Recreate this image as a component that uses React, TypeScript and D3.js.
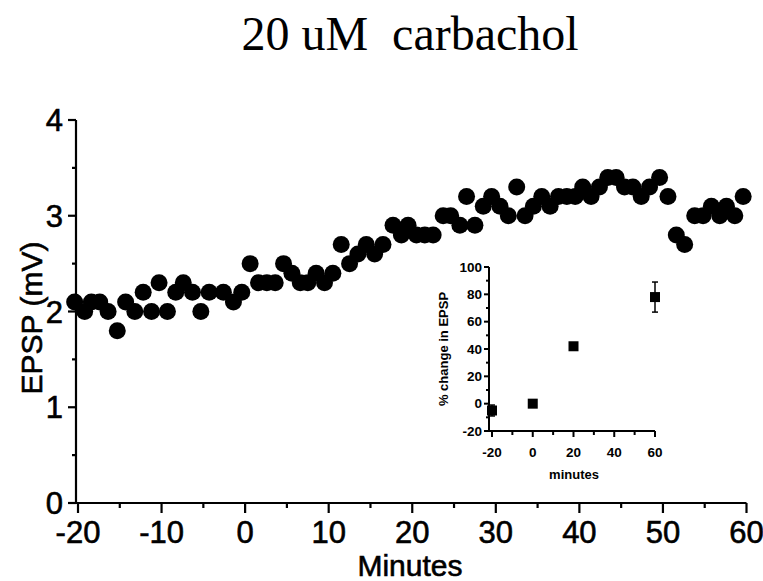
import React from "react";
import * as d3 from "d3";

const title = "20 uM  carbachol";
const xLabel = "Minutes";
const yLabel = "EPSP (mV)";
const insetXLabel = "minutes";
const insetYLabel = "% change in EPSP";

const times = [-20.4,-19.2,-18.4,-17.4,-16.4,-15.3,-14.3,-13.2,-12.2,-11.2,-10.3,-9.3,-8.3,-7.4,-6.3,-5.3,-4.3,-2.6,-1.4,-0.4,0.6,1.6,2.6,3.6,4.6,5.6,6.6,7.5,8.5,9.5,10.5,11.5,12.5,13.5,14.5,15.5,16.5,17.7,18.7,19.5,20.5,21.5,22.5,23.7,24.6,25.7,26.5,27.5,28.5,29.5,30.5,31.5,32.5,33.5,34.5,35.5,36.5,37.5,38.5,39.5,40.4,41.4,42.4,43.4,44.4,45.4,46.4,47.4,48.4,49.6,50.6,51.6,52.6,53.8,54.8,55.8,56.8,57.6,58.6,59.6];
const epsp = [2.1,2.0,2.1,2.1,2.0,1.8,2.1,2.0,2.2,2.0,2.3,2.0,2.2,2.3,2.2,2.0,2.2,2.2,2.1,2.2,2.5,2.3,2.3,2.3,2.5,2.4,2.3,2.3,2.4,2.3,2.4,2.7,2.5,2.6,2.7,2.6,2.7,2.9,2.8,2.9,2.8,2.8,2.8,3.0,3.0,2.9,3.2,2.9,3.1,3.2,3.1,3.0,3.3,3.0,3.1,3.2,3.1,3.2,3.2,3.2,3.3,3.2,3.3,3.4,3.4,3.3,3.3,3.2,3.3,3.4,3.2,2.8,2.7,3.0,3.0,3.1,3.0,3.1,3.0,3.2];

const xTicks = [-20, -10, 0, 10, 20, 30, 40, 50, 60];
const yTicks = [0, 1, 2, 3, 4];

const insetMinutes = [-20, 0, 20, 60];
const insetPct = [-5, 0, 42, 78];
const insetErr = [4, 2, 2, 11];
const insetXTicks = [-20, 0, 20, 40, 60];
const insetYTicks = [-20, 0, 20, 40, 60, 80, 100];

const sans = "'Liberation Sans', Arial, Helvetica, sans-serif";

export default function App() {
  const x = d3.scaleLinear().domain([-20, 60]).range([78, 746.5]);
  const y = d3.scaleLinear().domain([0, 4]).range([503, 120]);
  const ix = d3.scaleLinear().domain([-20, 60]).range([492, 655]);
  const iy = d3.scaleLinear().domain([-20, 100]).range([431, 267]);

  const xMinor = d3.range(-20, 61, 5).filter((v) => v % 10 !== 0);
  const yMinor = d3.range(0.5, 4, 1);
  const ixMinor = d3.range(-10, 60, 20);
  const iyMinor = d3.range(-10, 100, 20);

  return (
    <svg
      width={763}
      height={581}
      style={{ position: "absolute", left: 0, top: 0, background: "#fff" }}
    >
      <rect x={0} y={0} width={763} height={581} fill="#fff" />
      <text
        x={410}
        y={50}
        textAnchor="middle"
        fontFamily="'Liberation Serif', 'Times New Roman', serif"
        fontSize={48}
        style={{ whiteSpace: "pre" }}
      >
        {title}
      </text>

      {/* main axes */}
      <g stroke="#000" strokeWidth={2.2}>
        <line x1={x(-20) - 2} x2={x(-20) - 2} y1={y(4)} y2={y(0) + 1} />
        <line x1={x(-20) - 2} x2={x(60)} y1={y(0)} y2={y(0)} />
        {yTicks.map((t) => (
          <line key={"yt" + t} x1={x(-20) - 10} x2={x(-20) - 2} y1={y(t)} y2={y(t)} />
        ))}
        {yMinor.map((t) => (
          <line key={"ym" + t} x1={x(-20) - 6} x2={x(-20) - 2} y1={y(t)} y2={y(t)} />
        ))}
        {xTicks.map((t) => (
          <line key={"xt" + t} x1={x(t)} x2={x(t)} y1={y(0)} y2={y(0) + 10} />
        ))}
        {xMinor.map((t) => (
          <line key={"xm" + t} x1={x(t)} x2={x(t)} y1={y(0)} y2={y(0) + 5} />
        ))}
      </g>
      <g fontFamily={sans} fontSize={31} fill="#000" stroke="#000" strokeWidth={0.6}>
        {yTicks.map((t) => (
          <text key={"yl" + t} x={63} y={y(t) + 11} textAnchor="end">
            {String(t)}
          </text>
        ))}
        {xTicks.map((t) => (
          <text key={"xl" + t} x={x(t)} y={543} textAnchor="middle">
            {String(t)}
          </text>
        ))}
        <text x={410} y={576} textAnchor="middle" fontSize={30}>
          {xLabel}
        </text>
        <text
          transform={`translate(42,${318}) rotate(-90)`}
          textAnchor="middle"
          fontSize={30}
        >
          {yLabel}
        </text>
      </g>

      {/* data dots */}
      <g fill="#000">
        {times.map((t, i) => (
          <circle key={"d" + i} cx={x(t)} cy={y(epsp[i])} r={8.5} />
        ))}
      </g>

      {/* inset */}
      <g stroke="#000" strokeWidth={2}>
        <line x1={489} x2={489} y1={iy(100)} y2={iy(-20) + 1} />
        <line x1={489} x2={ix(60)} y1={iy(-20)} y2={iy(-20)} />
        {insetYTicks.map((t) => (
          <line key={"iyt" + t} x1={484} x2={489} y1={iy(t)} y2={iy(t)} />
        ))}
        {iyMinor.map((t) => (
          <line key={"iym" + t} x1={486} x2={489} y1={iy(t)} y2={iy(t)} />
        ))}
        {insetXTicks.map((t) => (
          <line key={"ixt" + t} x1={ix(t)} x2={ix(t)} y1={iy(-20)} y2={iy(-20) + 6} />
        ))}
        {ixMinor.map((t) => (
          <line key={"ixm" + t} x1={ix(t)} x2={ix(t)} y1={iy(-20)} y2={iy(-20) + 4} />
        ))}
      </g>
      <g fontFamily={sans} fontSize={13.5} fontWeight="bold" fill="#000">
        {insetYTicks.map((t) => (
          <text key={"iyl" + t} x={482} y={iy(t) + 4.5} textAnchor="end">
            {String(t)}
          </text>
        ))}
        {insetXTicks.map((t) => (
          <text key={"ixl" + t} x={ix(t)} y={457} textAnchor="middle">
            {String(t)}
          </text>
        ))}
        <text x={574} y={479} textAnchor="middle" fontSize={13}>
          {insetXLabel}
        </text>
        <text
          transform={`translate(448,${iy(40)}) rotate(-90)`}
          textAnchor="middle"
          fontSize={13}
        >
          {insetYLabel}
        </text>
      </g>
      <g stroke="#000" strokeWidth={1.5}>
        {insetMinutes.map((m, i) => (
          <g key={"ie" + i}>
            <line x1={ix(m)} x2={ix(m)} y1={iy(insetPct[i] + insetErr[i])} y2={iy(insetPct[i] - insetErr[i])} />
            <line x1={ix(m) - 3} x2={ix(m) + 3} y1={iy(insetPct[i] + insetErr[i])} y2={iy(insetPct[i] + insetErr[i])} />
            <line x1={ix(m) - 3} x2={ix(m) + 3} y1={iy(insetPct[i] - insetErr[i])} y2={iy(insetPct[i] - insetErr[i])} />
          </g>
        ))}
      </g>
      <g fill="#000">
        {insetMinutes.map((m, i) => (
          <rect key={"is" + i} x={ix(m) - 5} y={iy(insetPct[i]) - 5} width={10} height={10} />
        ))}
      </g>
    </svg>
  );
}
